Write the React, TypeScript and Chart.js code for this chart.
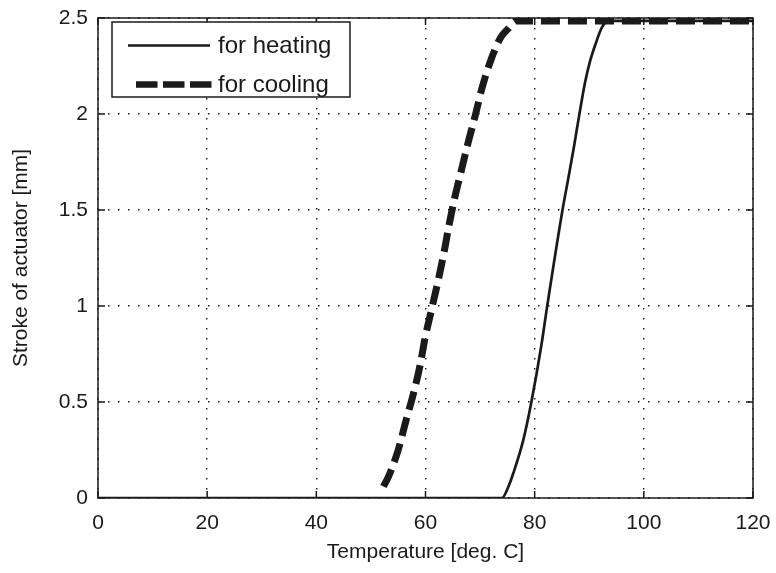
import React, { useEffect, useRef } from "react";
import { Chart, registerables } from "chart.js";

Chart.register(...registerables);

// ---- data ----
const heatingTemp = [0, 74, 75.2, 76.1, 77.9, 79.4, 81.2, 82.3, 85.1, 86.2, 87.2, 88.2, 89.2, 90.1, 91.1, 92.3, 93.5, 120];
const heatingStroke = [0, 0, 0.06, 0.13, 0.3, 0.5, 0.79, 1.0, 1.5, 1.67, 1.83, 2.0, 2.16, 2.27, 2.36, 2.45, 2.485, 2.485];

const coolingTemp = [52.3, 53.2, 55.0, 56.4, 57.8, 59.0, 59.9, 61.1, 62.3, 63.4, 64.3, 65.4, 66.6, 67.8, 69.1, 70.4, 72.1, 73.8, 75.2, 76.5, 120];
const coolingStroke = [0.06, 0.11, 0.25, 0.4, 0.545, 0.69, 0.83, 0.98, 1.13, 1.28, 1.42, 1.57, 1.71, 1.85, 1.99, 2.14, 2.29, 2.4, 2.446, 2.485, 2.485];

const xTickValues = [0, 20, 40, 60, 80, 100, 120];
const yTickValues = [0, 0.5, 1, 1.5, 2, 2.5];
const seriesLabels = ["for heating", "for cooling"];
const xTitle = "Temperature [deg. C]";
const yTitle = "Stroke of actuator [mm]";

const FONT = "'Liberation Sans', Arial, Helvetica, sans-serif";
const INK = "#1a1a1a";

const frameAndLegend = {
  id: "frameAndLegend",
  afterDatasetsDraw(chart: any) {
    const { ctx, chartArea } = chart;
    const { left, right, top, bottom } = chartArea;
    const xs = chart.scales.x;
    const ys = chart.scales.y;
    ctx.save();
    ctx.strokeStyle = INK;
    ctx.lineWidth = 1.5;
    ctx.setLineDash([]);
    ctx.strokeRect(left, top, right - left, bottom - top);
    const tl = 7;
    ctx.beginPath();
    xTickValues.forEach((v) => {
      const px = xs.getPixelForValue(v);
      ctx.moveTo(px, bottom);
      ctx.lineTo(px, bottom - tl);
      ctx.moveTo(px, top);
      ctx.lineTo(px, top + tl);
    });
    yTickValues.forEach((v) => {
      const py = ys.getPixelForValue(v);
      ctx.moveTo(left, py);
      ctx.lineTo(left + tl, py);
      ctx.moveTo(right, py);
      ctx.lineTo(right - tl, py);
    });
    ctx.stroke();

    // legend
    const bx = left + 14;
    const by = top + 4;
    const bw = 238;
    const bh = 75;
    ctx.fillStyle = "#ffffff";
    ctx.fillRect(bx, by, bw, bh);
    ctx.lineWidth = 1.5;
    ctx.strokeRect(bx, by, bw, bh);

    const row1 = by + 23.5;
    const row2 = by + 62.5;
    ctx.lineWidth = 2.7;
    ctx.beginPath();
    ctx.moveTo(bx + 16, row1);
    ctx.lineTo(bx + 98, row1);
    ctx.stroke();

    ctx.lineWidth = 6.5;
    ctx.lineCap = "butt";
    ctx.setLineDash([21.5, 5.5]);
    ctx.beginPath();
    ctx.moveTo(bx + 24, row2);
    ctx.lineTo(bx + 100, row2);
    ctx.stroke();
    ctx.setLineDash([]);

    ctx.fillStyle = INK;
    ctx.font = `24px ${FONT}`;
    ctx.textBaseline = "middle";
    ctx.textAlign = "left";
    ctx.fillText(seriesLabels[0], bx + 106, row1 + 1);
    ctx.fillText(seriesLabels[1], bx + 106, row2 + 1);
    ctx.restore();
  },
};

export default function App() {
  const canvasRef = useRef<HTMLCanvasElement | null>(null);

  useEffect(() => {
    const canvas = canvasRef.current;
    if (!canvas) return;
    const chart = new Chart(canvas, {
      type: "line",
      data: {
        datasets: [
          {
            label: seriesLabels[0],
            data: heatingTemp.map((t, i) => ({ x: t, y: heatingStroke[i] })),
            borderColor: INK,
            borderWidth: 2.7,
            pointRadius: 0,
            fill: false,
            cubicInterpolationMode: "monotone",
          },
          {
            label: seriesLabels[1],
            data: coolingTemp.map((t, i) => ({ x: t, y: coolingStroke[i] })),
            borderColor: INK,
            borderWidth: 7,
            borderDash: [19, 8],
            borderCapStyle: "butt",
            pointRadius: 0,
            fill: false,
            cubicInterpolationMode: "monotone",
          },
        ],
      },
      options: {
        animation: false,
        responsive: false,
        events: [],
        layout: { padding: { top: 18, right: 23, left: 0, bottom: 0 } },
        plugins: { legend: { display: false }, tooltip: { enabled: false } },
        scales: {
          x: {
            type: "linear",
            min: 0,
            max: 120,
            afterBuildTicks: (scale: any) => {
              scale.ticks = xTickValues.map((v) => ({ value: v }));
            },
            afterFit: (scale: any) => {
              scale.height = 75;
              scale.paddingLeft = 0;
              scale.paddingRight = 0;
            },
            ticks: {
              padding: 13,
              color: INK,
              font: { family: FONT, size: 21 },
              callback: (v: any) => String(v),
            },
            grid: { color: INK, lineWidth: 1.4, drawTicks: false },
            border: { display: false, dash: [1.5, 8.5] },
            title: {
              display: true,
              text: xTitle,
              color: INK,
              font: { family: FONT, size: 21 },
              padding: { top: 0, bottom: 8 },
            },
          },
          y: {
            type: "linear",
            min: 0,
            max: 2.5,
            afterBuildTicks: (scale: any) => {
              scale.ticks = yTickValues.map((v) => ({ value: v }));
            },
            afterFit: (scale: any) => {
              scale.width = 98;
              scale.paddingTop = 0;
              scale.paddingBottom = 0;
            },
            ticks: {
              padding: 10,
              color: INK,
              font: { family: FONT, size: 21 },
              callback: (v: any) => String(v),
            },
            grid: { color: INK, lineWidth: 1.4, drawTicks: false },
            border: { display: false, dash: [1.5, 8.5] },
            title: {
              display: true,
              text: yTitle,
              color: INK,
              font: { family: FONT, size: 21 },
              padding: { top: 9, bottom: 0 },
            },
          },
        },
      },
      plugins: [frameAndLegend],
    } as any);
    return () => chart.destroy();
  }, []);

  return (
    <div style={{ position: "absolute", left: 0, top: 0, width: 776, height: 573, background: "#fff" }}>
      <canvas ref={canvasRef} width={776} height={573} style={{ display: "block" }} />
    </div>
  );
}
